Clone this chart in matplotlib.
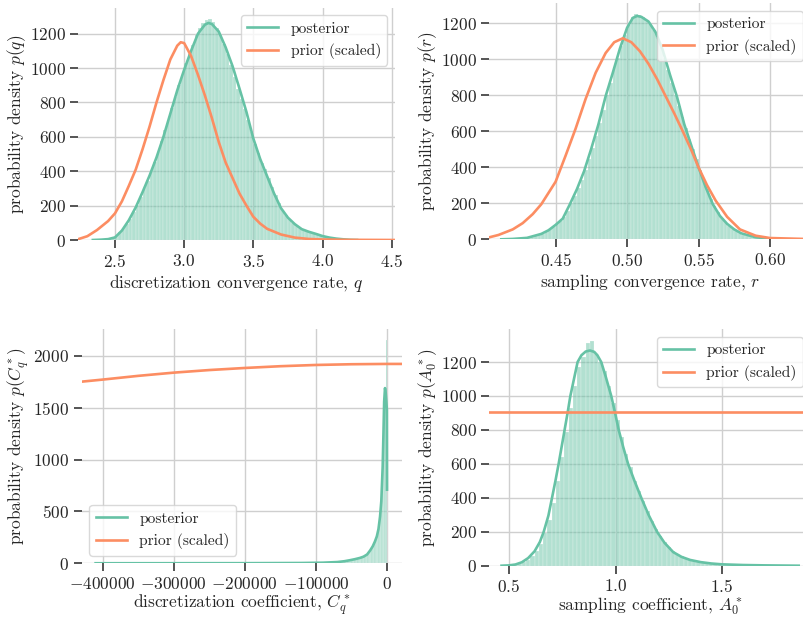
import numpy as np
import matplotlib
matplotlib.use("Agg")
import matplotlib.pyplot as plt

GREEN = "#66c2a5"
ORANGE = "#fc8d62"
INK = "#262626"

# --- convergence rate q ---
q_bin_start, q_bin_width = 2.35, 0.025
q_hist = [1, 2, 3, 4, 7, 12, 25, 45, 68, 95, 125, 160, 205, 250, 300, 345, 400, 455,
          510, 575, 640, 700, 770, 830, 900, 960, 1030, 1080, 1135, 1190, 1235, 1262,
          1280, 1288, 1270, 1235, 1190, 1140, 1080, 1020, 950, 880, 820, 760, 700, 630,
          560, 505, 450, 410, 360, 310, 260, 215, 175, 145, 120, 100, 82, 68, 58, 50,
          45, 40, 33, 27, 21, 16, 12, 9, 7, 5, 3, 2, 1]
q_kde_x = [2.34, 2.40, 2.45, 2.50, 2.55, 2.60, 2.65, 2.70, 2.75, 2.80, 2.85, 2.90, 2.95,
           3.00, 3.05, 3.10, 3.15, 3.175, 3.20, 3.25, 3.30, 3.35, 3.40, 3.45, 3.50, 3.55,
           3.60, 3.65, 3.70, 3.75, 3.80, 3.85, 3.90, 3.95, 4.00, 4.05, 4.10, 4.15, 4.20, 4.25]
q_kde_y = [0, 2, 5, 15, 55, 115, 190, 280, 375, 480, 600, 735, 870, 990, 1100, 1200, 1252,
           1262, 1256, 1212, 1120, 1010, 880, 745, 590, 470, 370, 270, 185, 130, 92, 63,
           48, 36, 23, 14, 8, 4, 1, 0]
q_prior_x = [2.2347, 2.30, 2.37, 2.45, 2.50, 2.55, 2.60, 2.65, 2.70, 2.75, 2.80, 2.85, 2.90,
             2.95, 2.975, 3.00, 3.05, 3.10, 3.15, 3.20, 3.25, 3.30, 3.35, 3.40, 3.45, 3.50,
             3.55, 3.60, 3.70, 3.80, 3.90, 4.00, 4.20, 4.524]
q_prior_y = [5, 22, 58, 110, 155, 225, 315, 410, 530, 660, 800, 930, 1050, 1130, 1150, 1145,
             1070, 960, 840, 710, 570, 450, 360, 270, 200, 135, 95, 65, 32, 14, 6, 3, 1, 0]

# --- convergence rate r ---
r_bin_start, r_bin_width = 0.4125, 0.0025
r_hist = [1, 2, 2, 3, 4, 5, 6, 8, 11, 16, 22, 30, 40, 55, 70, 85, 100, 125, 160, 200, 240,
          285, 330, 385, 445, 510, 575, 645, 720, 800, 870, 960, 1010, 1075, 1135, 1190,
          1235, 1250, 1245, 1235, 1215, 1195, 1165, 1120, 1080, 1005, 940, 870, 800, 740,
          680, 620, 560, 500, 445, 385, 330, 275, 225, 185, 150, 120, 95, 75, 58, 45, 34,
          26, 19, 14, 10, 8, 6, 4, 3, 2, 1, 1]
r_kde_x = [0.412, 0.420, 0.430, 0.440, 0.445, 0.450, 0.455, 0.460, 0.465, 0.470, 0.475,
           0.480, 0.485, 0.490, 0.495, 0.500, 0.504, 0.507, 0.510, 0.515, 0.520, 0.525,
           0.530, 0.535, 0.540, 0.545, 0.550, 0.555, 0.560, 0.565, 0.570, 0.575, 0.580,
           0.590, 0.600, 0.608]
r_kde_y = [0, 2, 8, 30, 50, 80, 115, 195, 280, 380, 505, 640, 795, 925, 1060, 1175, 1230,
           1241, 1236, 1210, 1150, 1050, 915, 790, 640, 520, 400, 290, 195, 130, 86, 55,
           33, 11, 4, 0]
r_prior_x = [0.4036, 0.410, 0.420, 0.427, 0.434, 0.440, 0.450, 0.457, 0.464, 0.471,
             0.478, 0.485, 0.491, 0.497, 0.503, 0.509, 0.515, 0.521, 0.527, 0.533,
             0.539, 0.545, 0.550, 0.556, 0.562, 0.570, 0.579, 0.590, 0.600, 0.6285]
r_prior_y = [11, 24, 55, 90, 140, 195, 320, 465, 615, 780, 925, 1035, 1095, 1117, 1095,
             1045, 975, 890, 795, 700, 600, 495, 400, 300, 215, 125, 55, 20, 7, 1]

# --- discretization coefficient C_q* ---
c_bin_start, c_bin_width = -80000, 2000
c_hist = [8, 9, 10, 11, 12, 13, 14, 16, 18, 20, 22, 24, 26, 29, 31, 34, 36, 39, 42, 46,
          50, 55, 60, 65, 74, 82, 95, 112, 132, 155, 178, 210, 245, 300, 390, 520, 760,
          1200, 1660, 2150]
c_kde_x = [-410000, -300000, -200000, -120000, -90000, -70000, -60000, -52000, -45000,
           -38000, -33000, -28000, -23600, -20000, -17000, -14300, -12000, -9800, -8000,
           -6100, -5000, -4000, -2800, -1800, -900, -200, 0]
c_kde_y = [0.5, 0.8, 1.2, 3, 6, 12, 20, 30, 40, 52, 64, 85, 125, 165, 210, 260, 330, 450,
           600, 930, 1250, 1560, 1690, 1640, 1560, 1480, 710]
c_prior_x = [-429580, -400000, -350000, -300000, -250000, -200000, -150000, -100000,
             -50000, 0, 20540]
c_prior_y = [1752, 1772, 1808, 1839, 1864, 1884, 1901, 1913, 1920, 1923, 1923]

# --- sampling coefficient A_0* ---
a_bin_start, a_bin_width = 0.46, 0.02
a_hist = [1, 1, 2, 5, 10, 19, 35, 55, 88, 130, 190, 270, 370, 500, 640, 785, 930, 1060,
          1170, 1230, 1310, 1327, 1245, 1200, 1150, 1060, 960, 860, 760, 660, 580, 500,
          440, 380, 320, 265, 215, 175, 140, 110, 85, 68, 55, 45, 37, 30, 24, 20, 16, 13,
          11, 9, 7, 6, 5, 4, 4, 3, 3, 2, 2, 2, 1, 1, 1, 1, 1, 1, 1, 1]
a_kde_x = [0.465, 0.50, 0.53, 0.56, 0.59, 0.62, 0.645, 0.663, 0.685, 0.702, 0.718, 0.733,
           0.747, 0.761, 0.775, 0.788, 0.805, 0.822, 0.84, 0.86, 0.88, 0.90, 0.915, 0.933,
           0.955, 0.980, 0.998, 1.015, 1.036, 1.059, 1.089, 1.121, 1.155, 1.195, 1.23,
           1.271, 1.31, 1.35, 1.40, 1.45, 1.50, 1.60, 1.70, 1.86]
a_kde_y = [0, 2, 7, 20, 45, 85, 140, 200, 295, 400, 500, 600, 700, 800, 900, 1000, 1100,
           1200, 1240, 1262, 1268, 1260, 1240, 1200, 1110, 1000, 900, 800, 700, 600, 500,
           400, 300, 200, 135, 80, 52, 34, 21, 13, 8, 4, 2, 0]
a_prior_x = [0.4075, 1.9164]
a_prior_y = [905, 905]

plt.rcParams.update({
    "font.family": "serif",
    "font.serif": ["cmr10"],
    "mathtext.fontset": "cm",
    "axes.formatter.use_mathtext": True,
    "font.size": 12.5,
    "text.color": INK,
    "axes.labelcolor": INK,
    "xtick.color": INK,
    "ytick.color": INK,
    "xtick.major.size": 5.5,
    "ytick.major.size": 5.5,
    "xtick.major.width": 1.1,
    "ytick.major.width": 1.1,
    "axes.grid": True,
    "grid.color": "#cfcfcf",
    "grid.linewidth": 1.0,
    "axes.axisbelow": True,
})

W, H = 804, 618
fig = plt.figure(figsize=(W / 100, H / 100), dpi=100)


def add_panel(left, right, top, bottom):
    return fig.add_axes([left / W, (H - bottom) / H, (right - left) / W, (bottom - top) / H])


def draw(ax, start, width, hist, kx, ky, px, py, xlim, ylim, xticks, yticks,
         xlabel, ylabel, legend_loc, xpad=2.5):
    edges = start + width * np.arange(len(hist))
    ax.bar(edges, hist, width=width, align="edge", color=GREEN, alpha=0.5,
           edgecolor="white", linewidth=0.3)
    ax.plot(kx, ky, color=GREEN, lw=1.9, label="posterior")
    ax.plot(px, py, color=ORANGE, lw=1.9, label="prior (scaled)")
    ax.set_xlim(*xlim)
    ax.set_ylim(*ylim)
    ax.set_xticks(xticks)
    ax.set_yticks(yticks)
    for s in ax.spines.values():
        s.set_visible(False)
    ax.set_xlabel(xlabel, fontsize=12.5, labelpad=xpad)
    ax.set_ylabel(ylabel, fontsize=12.5, labelpad=1.5)
    ax.legend(loc=legend_loc, fontsize=11.2, framealpha=0.8, edgecolor="#d0d0d0",
              fancybox=True)


ax1 = add_panel(78.3, 395, 7.5, 240)
draw(ax1, q_bin_start, q_bin_width, q_hist, q_kde_x, q_kde_y, q_prior_x, q_prior_y,
     (2.2347, 4.524), (0, 1352), [2.5, 3.0, 3.5, 4.0, 4.5], range(0, 1201, 200),
     "discretization convergence rate, $q$", "probability density $p(q)$", "upper right")

ax2 = add_panel(489.3, 810.7, 3, 239.3)
draw(ax2, r_bin_start, r_bin_width, r_hist, r_kde_x, r_kde_y, r_prior_x, r_prior_y,
     (0.4036, 0.6285), (0, 1313), [0.45, 0.50, 0.55, 0.60], range(0, 1201, 200),
     "sampling convergence rate, $r$", "probability density $p(r)$", "upper right")
ax2.xaxis.set_major_formatter(matplotlib.ticker.FormatStrFormatter("$%.2f$"))

ax3 = add_panel(81.7, 401.6, 329.3, 563.3)
draw(ax3, c_bin_start, c_bin_width, c_hist, c_kde_x, c_kde_y, c_prior_x, c_prior_y,
     (-429580, 20540), (0, 2257), range(-400000, 1, 100000), range(0, 2001, 500),
     "discretization coefficient, $C_q^*$", "probability density $p(C_q^*)$", "lower left",
     xpad=0.3)

ax4 = add_panel(489.3, 810.7, 329.3, 565.7)
draw(ax4, a_bin_start, a_bin_width, a_hist, a_kde_x, a_kde_y, a_prior_x, a_prior_y,
     (0.4075, 1.9164), (0, 1393), [0.5, 1.0, 1.5], range(0, 1201, 200),
     "sampling coefficient, $A_0^*$", "probability density $p(A_0^*)$", "upper right",
     xpad=0.3)

fig.savefig("out.png", dpi=100)
